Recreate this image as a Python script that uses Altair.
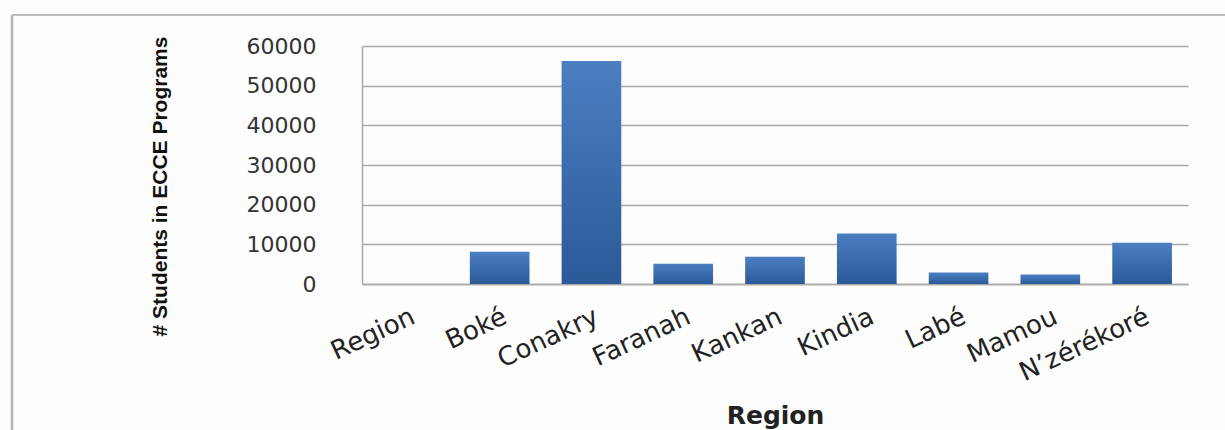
import altair as alt
import pandas as pd

regions = ["Region", "Boké", "Conakry", "Faranah", "Kankan", "Kindia", "Labé", "Mamou", "N’zérékoré"]
students = [None, 8100, 56200, 5100, 6900, 12700, 2900, 2400, 10400]
y_ticks = [0, 10000, 20000, 30000, 40000, 50000, 60000]

df = pd.DataFrame({"Region": regions, "Students": students})

W, H = 826, 238
LEFT, TOP = 362, 46
GRID = "#a9a9a9"

bar_fill = alt.Gradient(
    gradient="linear",
    stops=[alt.GradientStop(color="#4b7fc2", offset=0),
           alt.GradientStop(color="#2b5998", offset=1)],
    x1=0, x2=0, y1=0, y2=1,
)

bars = alt.Chart(df).mark_bar(color=bar_fill).encode(
    x=alt.X(
        "Region:N",
        sort=regions,
        scale=alt.Scale(domain=regions, paddingInner=0.35, paddingOuter=0.175),
        axis=alt.Axis(
            labelAngle=335,
            labelFont="DejaVu Sans",
            labelFontSize=26,
            labelColor="#222222",
            labelPadding=19,
            ticks=False,
            domain=True,
            domainColor=GRID,
            domainWidth=1.5,
            grid=False,
            title="Region",
            titleFont="DejaVu Sans",
            titleFontSize=25,
            titleFontWeight="bold",
            titleColor="#222222",
            titleY=139,
            titleBaseline="alphabetic",
        ),
    ),
    y=alt.Y(
        "Students:Q",
        scale=alt.Scale(domain=[0, 60000], nice=False),
        axis=alt.Axis(
            values=y_ticks,
            format="d",
            labelFont="DejaVu Sans",
            labelFontSize=22,
            labelColor="#333333",
            labelPadding=46,
            labelFlush=False,
            labelOverlap=False,
            ticks=False,
            domain=True,
            domainColor=GRID,
            domainWidth=1.5,
            grid=True,
            gridColor=GRID,
            gridWidth=1.5,
            title="# Students in ECCE Programs",
            titleFont="Liberation Sans, Arial, sans-serif",
            titleFontSize=21,
            titleFontWeight="bold",
            titleColor="#111111",
            titleX=160 - LEFT,
            titleY=186 - TOP,
            titleAngle=270,
            titleAlign="center",
            titleBaseline="middle",
        ),
    ),
)

frame_df = pd.DataFrame({"k": [0]})
frame_top = alt.Chart(frame_df).mark_rule(color="#bdbdbd", strokeWidth=2).encode(
    x=alt.value(12 - LEFT), x2=alt.value(1225 - LEFT), y=alt.value(15 - TOP)
)
frame_left = alt.Chart(frame_df).mark_rule(color="#b5b5b5", strokeWidth=2.5).encode(
    x=alt.value(12 - LEFT), y=alt.value(15 - TOP), y2=alt.value(430 - TOP)
)

chart = alt.layer(bars, frame_top, frame_left).properties(
    width=W,
    height=H,
    autosize=alt.AutoSizeParams(type="none"),
    padding={"left": LEFT, "top": TOP, "right": 1225 - LEFT - W, "bottom": 430 - TOP - H},
    background="#fdfdfd",
).configure_view(stroke=None)

chart.save("out.html", embed_options={"renderer": "svg", "actions": False})
